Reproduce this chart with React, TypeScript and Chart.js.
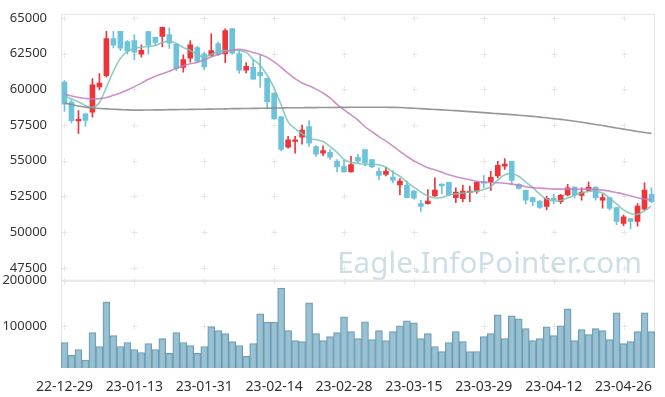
import { useEffect, useRef } from 'react';
import { Chart, registerables } from 'chart.js';

Chart.register(...registerables);

const dates = [
  '22-12-29', '23-01-02', '23-01-03', '23-01-04', '23-01-05', '23-01-06', '23-01-09', '23-01-10', '23-01-11', '23-01-12',
  '23-01-13', '23-01-16', '23-01-17', '23-01-18', '23-01-19', '23-01-20', '23-01-25', '23-01-26', '23-01-27', '23-01-30',
  '23-01-31', '23-02-01', '23-02-02', '23-02-03', '23-02-06', '23-02-07', '23-02-08', '23-02-09', '23-02-10', '23-02-13',
  '23-02-14', '23-02-15', '23-02-16', '23-02-17', '23-02-20', '23-02-21', '23-02-22', '23-02-23', '23-02-24', '23-02-27',
  '23-02-28', '23-03-02', '23-03-03', '23-03-06', '23-03-07', '23-03-08', '23-03-09', '23-03-10', '23-03-13', '23-03-14',
  '23-03-15', '23-03-16', '23-03-17', '23-03-20', '23-03-21', '23-03-22', '23-03-23', '23-03-24', '23-03-27', '23-03-28',
  '23-03-29', '23-03-30', '23-03-31', '23-04-03', '23-04-04', '23-04-05', '23-04-06', '23-04-07', '23-04-10', '23-04-11',
  '23-04-12', '23-04-13', '23-04-14', '23-04-17', '23-04-18', '23-04-19', '23-04-20', '23-04-21', '23-04-24', '23-04-25',
  '23-04-26', '23-04-27', '23-04-28', '23-05-02', '23-05-03',
];

const opens = [
  60500, 59100, 57780, 58280, 58400, 60170, 60950, 63550, 64050, 63340,
  63400, 62450, 64030, 63640, 63700, 63820, 63150, 61520, 62180, 62920,
  62480, 62370, 63200, 62480, 64240, 62500, 61330, 61540, 61190, 60770,
  59730, 58070, 55950, 56340, 56640, 57380, 55990, 55530, 55580, 54950,
  54600, 54210, 55230, 55780, 55070, 54260, 54030, 53860, 53310, 53290,
  52870, 51990, 51990, 52530, 53360, 53480, 52410, 52340, 52760, 52870,
  53520, 53520, 53940, 54610, 54950, 53340, 52920, 52410, 52180, 51790,
  52370, 52130, 52600, 53150, 52570, 52920, 53150, 52230, 52410, 51720,
  50610, 50950, 50750, 51600, 52640,
];
const highs = [
  60600, 59300, 58500, 58300, 60750, 61100, 64050, 64050, 64050, 63400,
  63800, 63100, 64050, 63650, 64350, 64300, 63200, 62400, 63400, 63000,
  62600, 63870, 63300, 64220, 64240, 62700, 61860, 62070, 62370, 60780,
  59750, 58100, 56700, 56700, 57500, 57800, 56060, 56040, 55780, 55070,
  55020, 55300, 55450, 55800, 55070, 54500, 54530, 54300, 53750, 53570,
  52900, 52230, 52980, 53800, 53380, 53480, 53100, 53290, 53220, 53500,
  53980, 54260, 54950, 55140, 54960, 53400, 52950, 52450, 52200, 52530,
  52640, 52640, 53340, 53170, 53100, 53500, 53170, 52640, 52420, 51730,
  51200, 50970, 52000, 53450, 53100,
];
const lows = [
  58450, 57650, 56900, 57400, 58050, 59950, 60850, 62900, 62700, 62450,
  62050, 62250, 62450, 63060, 62970, 62850, 61300, 61200, 61900, 61900,
  61350, 62300, 62350, 61860, 62450, 61100, 61140, 60700, 60130, 58620,
  57900, 55700, 55870, 55530, 56150, 56000, 55300, 55350, 55090, 54210,
  54200, 54200, 54800, 54650, 54500, 53670, 53930, 53440, 52600, 52400,
  52300, 51440, 51950, 52500, 52690, 52550, 52060, 52110, 52130, 52700,
  53100, 52920, 53800, 54380, 53340, 53000, 51980, 51830, 51650, 51560,
  51990, 51990, 52530, 52400, 52230, 52900, 52230, 51680, 51560, 50520,
  50450, 50220, 50420, 51540, 52050,
];
const closes = [
  58950, 57800, 57900, 57820, 60300, 60430, 63550, 63080, 62870, 62660,
  62600, 62720, 63080, 63270, 64330, 63220, 61450, 62070, 63100, 61970,
  61560, 62710, 62440, 64100, 62530, 61330, 61600, 60700, 60930, 59130,
  57930, 55780, 56460, 56460, 57150, 56220, 55460, 55710, 55250, 54560,
  54210, 54720, 54960, 54830, 54560, 53960, 54260, 53630, 53570, 52410,
  52370, 51790, 52180, 52940, 53240, 52600, 52800, 52870, 52870, 53480,
  53430, 53840, 54680, 54770, 53610, 53060, 52230, 52130, 51720, 52370,
  52270, 52570, 53100, 52600, 52800, 53150, 52410, 52410, 51650, 50750,
  51070, 50750, 51830, 52940, 52130,
];
const volumes = [
  64000, 35600, 48700, 25300, 85800, 55200, 153500, 79200, 55200, 64000,
  48700, 42100, 61800, 48700, 72700, 40000, 85800, 64000, 57400, 40000,
  55200, 98900, 90200, 83600, 66100, 57400, 33400, 61800, 127300, 109000,
  109000, 184000, 90200, 68300, 66100, 151300, 83600, 68300, 77100, 85800,
  120700, 87900, 72600, 109700, 70400, 90100, 68300, 87900, 101000, 111900,
  107600, 72600, 83600, 55200, 44300, 63900, 87900, 66100, 44300, 44300,
  77000, 83600, 125000, 72600, 122900, 116300, 94500, 68300, 72600, 98800,
  79200, 101000, 138100, 68300, 92300, 81400, 94500, 90100, 70400, 129400,
  61700, 66100, 87900, 129400, 87900,
];
const maShort = [
  59525, 59320, 59110, 58865, 58730, 59075, 60150, 61260, 62160, 62645,
  62850, 62955, 62990, 63060, 63270, 63370, 63200, 62920, 62710, 62435,
  62230, 62435, 62640, 62710, 62750, 62710, 62575, 62090, 61670, 60980,
  60080, 58900, 57720, 57240, 56890, 56545, 56475, 56340, 55990, 55575,
  55090, 54880, 54810, 54740, 54740, 54710, 54535, 54190, 53910, 53500,
  53150, 52800, 52525, 52390, 52420, 52595, 52665, 52735, 52800, 52870,
  52975, 53180, 53630, 54015, 54070, 53910, 53500, 53130, 52665, 52320,
  52180, 52215, 52390, 52595, 52735, 52840, 52870, 52735, 52390, 51970,
  51555, 51310, 51240, 51490, 51830,
];
const maMid = [
  59660, 59525, 59420, 59350, 59320, 59340, 59420, 59575, 59735, 59940,
  60185, 60425, 60700, 60910, 61085, 61260, 61465, 61640, 61780, 61880,
  62055, 62260, 62435, 62610, 62750, 62800, 62710, 62575, 62435, 62230,
  61915, 61535, 61120, 60740, 60440, 60240, 60010, 59740, 59400, 58935,
  58550, 58210, 57840, 57375, 57030, 56685, 56370, 56025, 55645, 55300,
  54985, 54740, 54500, 54360, 54190, 54015, 53875, 53775, 53670, 53565,
  53500, 53475, 53460, 53425, 53360, 53290, 53180, 53115, 53080, 53045,
  53010, 53010, 53010, 53000, 53010, 53010, 52990, 52940, 52870, 52770,
  52665, 52525, 52410, 52320, 52250,
];
const maLong = [
  59040, 58935, 58830, 58750, 58690, 58650, 58625, 58600, 58575, 58555,
  58540, 58540, 58545, 58555, 58555, 58570, 58575, 58580, 58590, 58595,
  58600, 58610, 58615, 58625, 58640, 58645, 58650, 58660, 58665, 58670,
  58680, 58690, 58700, 58705, 58705, 58715, 58715, 58720, 58720, 58730,
  58730, 58735, 58735, 58740, 58740, 58740, 58735, 58730, 58720, 58690,
  58665, 58640, 58610, 58585, 58555, 58530, 58500, 58465, 58430, 58395,
  58360, 58325, 58290, 58260, 58225, 58180, 58140, 58100, 58050, 58000,
  57945, 57890, 57830, 57760, 57690, 57610, 57535, 57460, 57375, 57290,
  57210, 57125, 57045, 56975, 56910,
];

const priceTicks = [47500, 50000, 52500, 55000, 57500, 60000, 62500, 65000];
const volumeTicks = [100000, 200000];
const priceMin = 46600;
const priceMax = 65280;
const volumeMin = 8000;
const volumeMax = 200000;
const labelEvery = 10;

const UP = '#ec343b';
const DOWN = '#6cc3db';
const FONT = "'Noto Sans', sans-serif";

const decor = {
  id: 'decor',
  beforeDatasetsDraw(chart: any) {
    const { ctx, chartArea: ca, scales } = chart;
    const xs = scales.x;
    const yp = scales.y;
    const yv = scales.yv;
    ctx.save();
    // cross marks
    ctx.strokeStyle = '#e6e6e6';
    ctx.lineWidth = 1;
    const px: number[] = [];
    for (let i = 0; i < dates.length; i += labelEvery) px.push(Math.round(xs.getPixelForValue(i)) + 0.5);
    const py: number[] = priceTicks
      .map((v) => Math.round(yp.getPixelForValue(v)) + 0.5)
      .concat(volumeTicks.map((v) => Math.round(yv.getPixelForValue(v)) + 0.5));
    ctx.beginPath();
    for (const x of px) {
      for (const y of py) {
        ctx.moveTo(x - 3, y);
        ctx.lineTo(x + 3, y);
        ctx.moveTo(x, y - 3);
        ctx.lineTo(x, y + 3);
      }
    }
    ctx.stroke();
    // watermark
    const text = 'Eagle.InfoPointer.com';
    ctx.font = `32px ${FONT}`;
    const w = ctx.measureText(text).width;
    const size = (32 * 305) / w;
    ctx.font = `${size}px ${FONT}`;
    ctx.fillStyle = 'rgba(176,201,217,0.62)';
    ctx.textAlign = 'right';
    ctx.textBaseline = 'alphabetic';
    ctx.fillText(text, ca.right - 13, yp.bottom - 8);
    // panel borders
    ctx.strokeStyle = '#e4e4e4';
    ctx.strokeRect(ca.left + 0.5, yp.top + 0.5, ca.right - ca.left - 1, yp.bottom - yp.top - 1);
    ctx.strokeRect(ca.left + 0.5, yv.top + 0.5, ca.right - ca.left - 1, yv.bottom - yv.top - 1);
    ctx.restore();
  },
};

export default function App() {
  const ref = useRef<HTMLCanvasElement>(null);

  useEffect(() => {
    const bodies = dates.map((_, i) => [opens[i], closes[i]]);
    const wicks = dates.map((_, i) => [lows[i], highs[i]]);
    const colors = dates.map((_, i) => (closes[i] >= opens[i] ? UP : DOWN));

    const chart = new Chart(ref.current as HTMLCanvasElement, {
      type: 'bar',
      data: {
        labels: dates,
        datasets: [
          {
            type: 'line',
            data: maLong,
            yAxisID: 'y',
            borderColor: 'rgba(140,140,140,0.9)',
            borderWidth: 1.6,
            pointRadius: 0,
            tension: 0.3,
            order: 0,
          } as any,
          {
            type: 'line',
            data: maMid,
            yAxisID: 'y',
            borderColor: 'rgba(196,126,192,0.85)',
            borderWidth: 1.6,
            pointRadius: 0,
            tension: 0.3,
            order: 0,
          } as any,
          {
            type: 'line',
            data: maShort,
            yAxisID: 'y',
            borderColor: 'rgba(122,196,180,0.85)',
            borderWidth: 1.6,
            pointRadius: 0,
            tension: 0.3,
            order: 0,
          } as any,
          {
            type: 'bar',
            data: bodies,
            yAxisID: 'y',
            backgroundColor: colors,
            borderWidth: 0,
            barThickness: 5,
            grouped: false,
            order: 1,
          } as any,
          {
            type: 'bar',
            data: wicks,
            yAxisID: 'y',
            backgroundColor: colors,
            borderWidth: 0,
            barThickness: 1,
            grouped: false,
            order: 2,
          } as any,
          {
            type: 'bar',
            data: volumes,
            yAxisID: 'yv',
            backgroundColor: 'rgba(140,184,204,0.88)',
            borderColor: '#6b9bb3',
            borderWidth: 1,
            barPercentage: 1,
            categoryPercentage: 1,
            grouped: false,
            order: 3,
          } as any,
        ],
      },
      options: {
        animation: false,
        responsive: true,
        maintainAspectRatio: false,
        layout: { padding: { top: 11, right: 10, left: 0, bottom: 0 } },
        plugins: { legend: { display: false }, tooltip: { enabled: false } },
        scales: {
          x: {
            type: 'category',
            offset: true,
            grid: { display: false },
            border: { display: false },
            afterFit: (s: any) => {
              s.height = 29;
            },
            ticks: {
              autoSkip: false,
              maxRotation: 0,
              minRotation: 0,
              padding: 3,
              color: '#333',
              font: { family: FONT, size: 14 },
              callback: (_v: any, i: number) => (i % labelEvery === 0 ? dates[i] : ''),
            },
          },
          yv: {
            type: 'linear',
            position: 'left',
            stack: 'panels',
            stackWeight: 88,
            min: volumeMin,
            max: volumeMax,
            grid: { display: false },
            border: { display: false },
            afterFit: (s: any) => {
              s.width = 61;
            },
            afterBuildTicks: (s: any) => {
              s.ticks = volumeTicks.map((v) => ({ value: v }));
            },
            ticks: {
              padding: 6,
              color: '#333',
              font: { family: FONT, size: 13 },
              callback: (v: any) => String(v),
            },
          },
          y: {
            type: 'linear',
            position: 'left',
            stack: 'panels',
            stackWeight: 269,
            min: priceMin,
            max: priceMax,
            grid: { display: false },
            border: { display: false },
            afterFit: (s: any) => {
              s.width = 61;
            },
            afterBuildTicks: (s: any) => {
              s.ticks = priceTicks.map((v) => ({ value: v }));
            },
            ticks: {
              padding: 6,
              color: '#333',
              font: { family: FONT, size: 13 },
              callback: (v: any) => String(v),
            },
          },
        },
      } as any,
      plugins: [decor],
    });
    return () => chart.destroy();
  }, []);

  return (
    <div style={{ position: 'fixed', left: 0, top: 0, width: 665, height: 397, background: '#fff' }}>
      <canvas ref={ref} />
    </div>
  );
}
